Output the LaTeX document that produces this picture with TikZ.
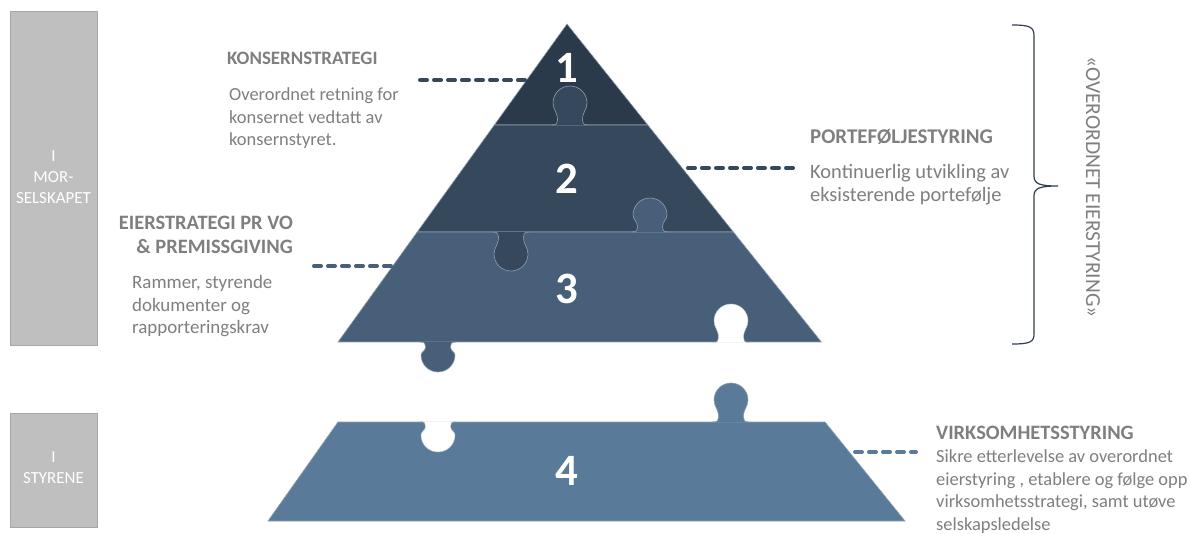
\documentclass[tikz,border=0pt]{standalone}
\usepackage{fontspec}
\setmainfont{Carlito}
\definecolor{cA}{HTML}{2B3A4B}
\definecolor{cB}{HTML}{35485C}
\definecolor{cC}{HTML}{475F78}
\definecolor{cD}{HTML}{5A7A99}
\definecolor{edge}{HTML}{8FA0B2}
\definecolor{txt}{HTML}{7F7F7F}
\definecolor{barfill}{HTML}{BFBFBF}
\definecolor{barline}{HTML}{A6A6A6}
\definecolor{brace}{HTML}{2F3E4E}
\newcommand\puzzle[5]{% x, base y, yscale (-1 up, 1 down), length, style
  \pgfmathsetmacro\pzh{#4-17}%
  \pgfmathsetmacro\pzca{5+(\pzh-5)*0.5}%
  \pgfmathsetmacro\pzcb{\pzh-(\pzh-5)*0.4}%
  \pgfmathsetmacro\pzt{\pzh+9.4}%
  \path[#5, shift={(#1,#2)}, yscale=#3]
    (-18,0) .. controls (-13,0) and (-12.5,2) .. (-12.5,5)
    .. controls (-12.5,\pzca) and (-17,\pzcb) .. (-17,\pzh)
    .. controls (-17,\pzt) and (-9.4,#4) .. (0,#4)
    .. controls (9.4,#4) and (17,\pzt) .. (17,\pzh)
    .. controls (17,\pzcb) and (12.5,\pzca) .. (12.5,5)
    .. controls (12.5,2) and (13,0) .. (18,0);
}
\tikzset{
  layer/.style={draw=edge, line width=0.6bp},
  tab/.style={fill=#1, draw=edge, line width=0.6bp},
  hole/.style={fill=white, draw=edge!60, line width=0.5bp},
  num/.style={text=white, font=\fontsize{45}{45}\selectfont\bfseries, inner sep=0pt},
  head/.style={text=txt, font=\fontsize{#1}{25}\selectfont\bfseries, inner sep=0pt},
  head/.default=20,
  body/.style={text=txt, font=\fontsize{#1}{23}\selectfont, inner sep=0pt, align=left},
  body/.default=19,
  bar/.style={fill=barfill, draw=barline, line width=1bp},
  bartext/.style={text=white, font=\fontsize{17}{21}\selectfont, align=center, inner sep=0pt},
  dots/.style={draw=#1, line width=4bp, line cap=round, dash pattern=on 7bp off 7bp},
}
\begin{document}
\begin{tikzpicture}[x=1bp, y=-1bp]
\useasboundingbox (0,0) rectangle (1190,534);
\fill[white] (0,0) rectangle (1190,534);

% left bars
\draw[bar] (10,12) rectangle (97,346);
\node[bartext] (barA) at (53.5,177) {I\\MOR-\\SELSKAPET};
\draw[bar] (10,413) rectangle (97,527);
\node[bartext] (barB) at (53.5,468) {I\\STYRENE};

% pyramid layers
\filldraw[layer, fill=cA] (567,24) -- (647.8,125) -- (494.3,125) -- cycle;
\filldraw[layer, fill=cB] (494.3,125) -- (647.8,125) -- (733.4,232) -- (417.2,232) -- cycle;
\puzzle{570}{125}{-1}{39}{tab=cB}
\filldraw[layer, fill=cC] (417.2,232) -- (733.4,232) -- (821.4,342) -- (338,342) -- cycle;
\puzzle{511}{232}{1}{39}{tab=cB}
\puzzle{650}{232}{-1}{34}{tab=cC}
\puzzle{438}{342}{1}{30}{tab=cC}
\puzzle{731}{342.6}{-1}{38.6}{hole}
\filldraw[layer, fill=cD] (338,422) -- (825,422) -- (905,521) -- (268,521) -- cycle;
\puzzle{731}{422}{-1}{39}{tab=cD}
\puzzle{438}{421.4}{1}{30.6}{hole}

% numbers
\node[num] (n1) at (567,68) {1};
\node[num] (n2) at (567,179) {2};
\node[num] (n3) at (567,289) {3};
\node[num] (n4) at (567,471) {4};

% texts (base anchor = baseline of last line)
\node[head=19, anchor=base west] (h1) at (227,65) {KONSERNSTRATEGI};
\node[body=18.5, anchor=base west] (b1) at (229,146) {Overordnet retning for\\konsernet vedtatt av\\konsernstyret.};
\node[head=21, anchor=base west] (h2) at (810,144) {PORTEFØLJESTYRING};
\node[body=20.5, anchor=base west] (b2) at (810,201.5) {Kontinuerlig utvikling av\\eksisterende portefølje};
\node[head=20.5, anchor=base east, align=right] (h3) at (293,254) {EIERSTRATEGI PR VO\\\& PREMISSGIVING};
\node[body=19, anchor=base west] (b3) at (132,334) {Rammer, styrende\\dokumenter og\\rapporteringskrav};
\node[head=20.5, anchor=base west] (h4) at (936,439) {VIRKSOMHETSSTYRING};
\node[text=txt, font=\fontsize{18.5}{22.5}\selectfont, inner sep=0pt, align=left, anchor=base west] (b4) at (936,530) {Sikre etterlevelse av overordnet\\eierstyring , etablere og følge opp\\virksomhetsstrategi, samt utøve\\selskapsledelse};

% dashed connectors
\coordinate (d1a) at (420,80);  \coordinate (d1b) at (528,80);
\coordinate (d2a) at (688,168); \coordinate (d2b) at (798,168);
\coordinate (d3a) at (314,266); \coordinate (d3b) at (392,266);
\coordinate (d4a) at (855,452); \coordinate (d4b) at (916,452);
\draw[dots=cB] (d1a) -- (d1b);
\draw[dots=cB] (d2a) -- (d2b);
\draw[dots=cC] (d3a) -- (d3b);
\draw[dots=cD] (d4a) -- (d4b);

% brace
\coordinate (brTop) at (1012,25);
\coordinate (brTip) at (1058,186);
\coordinate (brBot) at (1012,344);
\draw[brace, line width=1.2bp] (brTop) .. controls (1030,25) and (1034,27) .. (1034,36)
  -- (1034,176) .. controls (1034,184) and (1040,186) .. (brTip)
  .. controls (1040,186) and (1034,188) .. (1034,196)
  -- (1034,334) .. controls (1034,342) and (1030,344) .. (brBot);
\node[text=txt, font=\fontsize{21.5}{21.5}\selectfont, rotate=-90, inner sep=0pt] (side) at (1093,187) {«OVERORDNET EIERSTYRING»};
\end{tikzpicture}
\end{document}
